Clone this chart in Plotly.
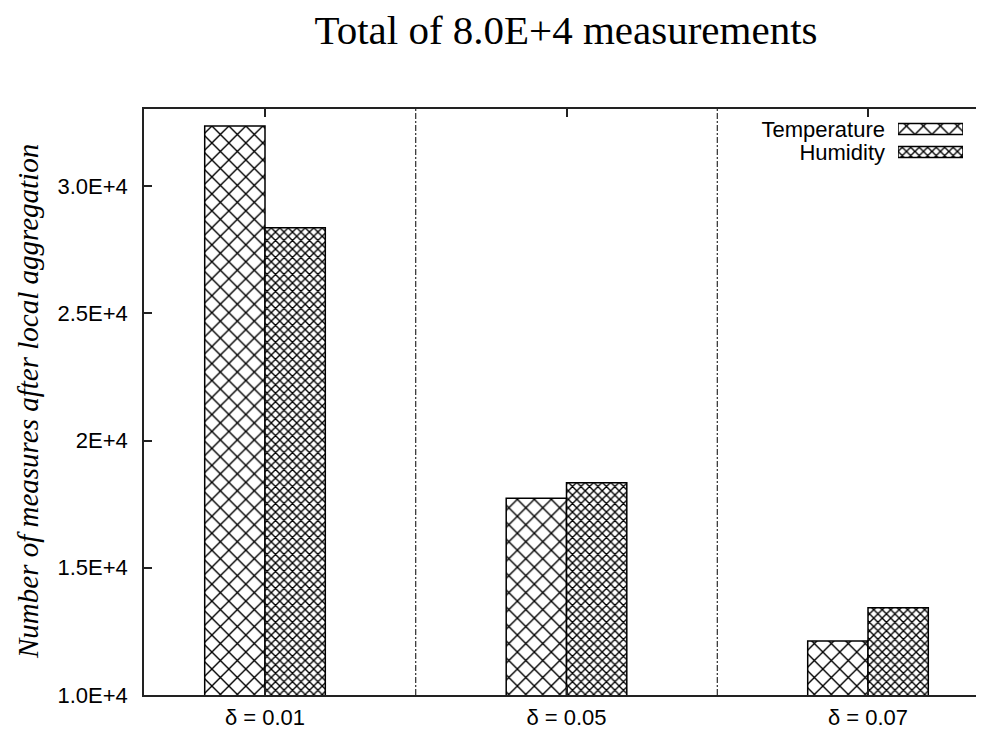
import plotly.graph_objects as go

categories = ["δ = 0.01", "δ = 0.05", "δ = 0.07"]
temperature = [32360, 17730, 12120]
humidity = [28360, 18340, 13430]
series_names = ["Temperature", "Humidity"]
ytick_vals = [10000, 15000, 20000, 25000, 30000]
ytick_text = ["1.0E+4", "1.5E+4", "2E+4", "2.5E+4", "3.0E+4"]
title_text = "Total of 8.0E+4 measurements"
ytitle_text = "Number of measures after local aggregation"
legend_len = [1, 1]

# the page body has an 8px default margin; compensate so the figure fills the window
OFF = 8
W, H = 984 - OFF, 729 - OFF
L, R, T, B = 144 - OFF, 0, 109 - OFF, 34
plot_w = W - L - R
plot_h = H - T - B

sans = "Liberation Sans, Arial, sans-serif"
serif = "Liberation Serif, Times New Roman, serif"
axis_col = "#222222"

temp_pattern = dict(shape="x", size=12, solidity=0.22, fgcolor="black", fgopacity=1,
                    bgcolor="white", fillmode="replace")
hum_pattern = dict(shape="x", size=6, solidity=0.4, fgcolor="black", fgopacity=1,
                   bgcolor="white", fillmode="replace")

fig = go.Figure()
fig.add_trace(go.Bar(x=categories, y=temperature, name=series_names[0], width=0.2, offset=-0.2,
                     marker=dict(color="white", pattern=temp_pattern, line=dict(color="black", width=1.5)),
                     showlegend=False))
fig.add_trace(go.Bar(x=categories, y=humidity, name=series_names[1], width=0.2, offset=0.0,
                     marker=dict(color="white", pattern=hum_pattern, line=dict(color="black", width=1.5)),
                     showlegend=False))

# legend swatches in a tiny subplot (text is the category tick label)
fig.add_trace(go.Bar(y=[series_names[0]], x=[legend_len[0]], orientation="h", width=0.48,
                     marker=dict(color="white", pattern=temp_pattern, line=dict(color="black", width=1.5)),
                     xaxis="x3", yaxis="y3", showlegend=False))
fig.add_trace(go.Bar(y=[series_names[1]], x=[legend_len[1]], orientation="h", width=0.48,
                     marker=dict(color="white", pattern=hum_pattern, line=dict(color="black", width=1.5)),
                     xaxis="x3", yaxis="y3", showlegend=False))

# group separators
for sep in [0.5, 1.5]:
    fig.add_shape(type="line", xref="x", yref="paper", x0=sep, x1=sep, y0=0, y1=1,
                  line=dict(color="black", width=1, dash="6px,2px,2px,2px"), layer="above")

x_lo = -121 / 301.5
x_hi = x_lo + plot_w / 301.5
y_lo = 10000
y_hi = 10000 + plot_h / 254.5 * 10000

# swatch box in window pixels
sw_x0, sw_x1 = 898 - OFF, 963 - OFF
sw_ytop, sw_ybot = 117.5 - OFF, 163.5 - OFF

fig.update_layout(
    width=W, height=H,
    margin=dict(l=L, r=R, t=T, b=B),
    paper_bgcolor="white", plot_bgcolor="white",
    barmode="overlay",
    showlegend=False,
    title=dict(text=title_text, x=(566 - 144) / plot_w, xref="paper", xanchor="center",
               y=1 - (30 - OFF) / H, yref="container", yanchor="middle",
               font=dict(family=serif, size=41, color="black")),
    xaxis=dict(type="category", range=[x_lo, x_hi], showline=True, linecolor=axis_col, linewidth=1.5,
               mirror="ticks", ticks="inside", ticklen=8, tickcolor=axis_col, tickwidth=1.5,
               showgrid=False, zeroline=False, ticklabelstandoff=2,
               tickfont=dict(family=sans, size=22, color="black")),
    yaxis=dict(range=[y_lo, y_hi], showline=True, linecolor=axis_col, linewidth=1.5,
               ticks="inside", ticklen=8, tickcolor=axis_col, tickwidth=1.5,
               tickvals=ytick_vals, ticktext=ytick_text, showgrid=False, zeroline=False,
               ticklabelstandoff=10,
               tickfont=dict(family=sans, size=22, color="black")),
    yaxis2=dict(range=[y_lo, y_hi], overlaying="y", side="right", anchor="x",
                ticks="inside", ticklen=8, tickcolor=axis_col, tickwidth=1.5,
                tickvals=ytick_vals, showticklabels=False, showline=False, showgrid=False, zeroline=False),
    xaxis3=dict(domain=[(sw_x0 - L) / plot_w, (sw_x1 - L) / plot_w], range=[0, 1], anchor="y3",
                visible=False, fixedrange=True),
    yaxis3=dict(domain=[(H - B - sw_ybot) / plot_h, (H - B - sw_ytop) / plot_h], anchor="x3",
                type="category", range=[1.5, -0.5], showline=False, showgrid=False, zeroline=False,
                tickmode="array", tickvals=series_names, ticktext=series_names,
                ticks="", ticklabelstandoff=12,
                tickfont=dict(family=sans, size=22, color="black")),
    annotations=[dict(text=ytitle_text, textangle=-90, xref="paper", yref="paper",
                      x=0, y=0.5, xanchor="center", yanchor="middle", xshift=-(144 - 28), showarrow=False,
                      font=dict(family=serif, size=29, color="black", style="italic"))],
)

fig.write_html("out.html")
